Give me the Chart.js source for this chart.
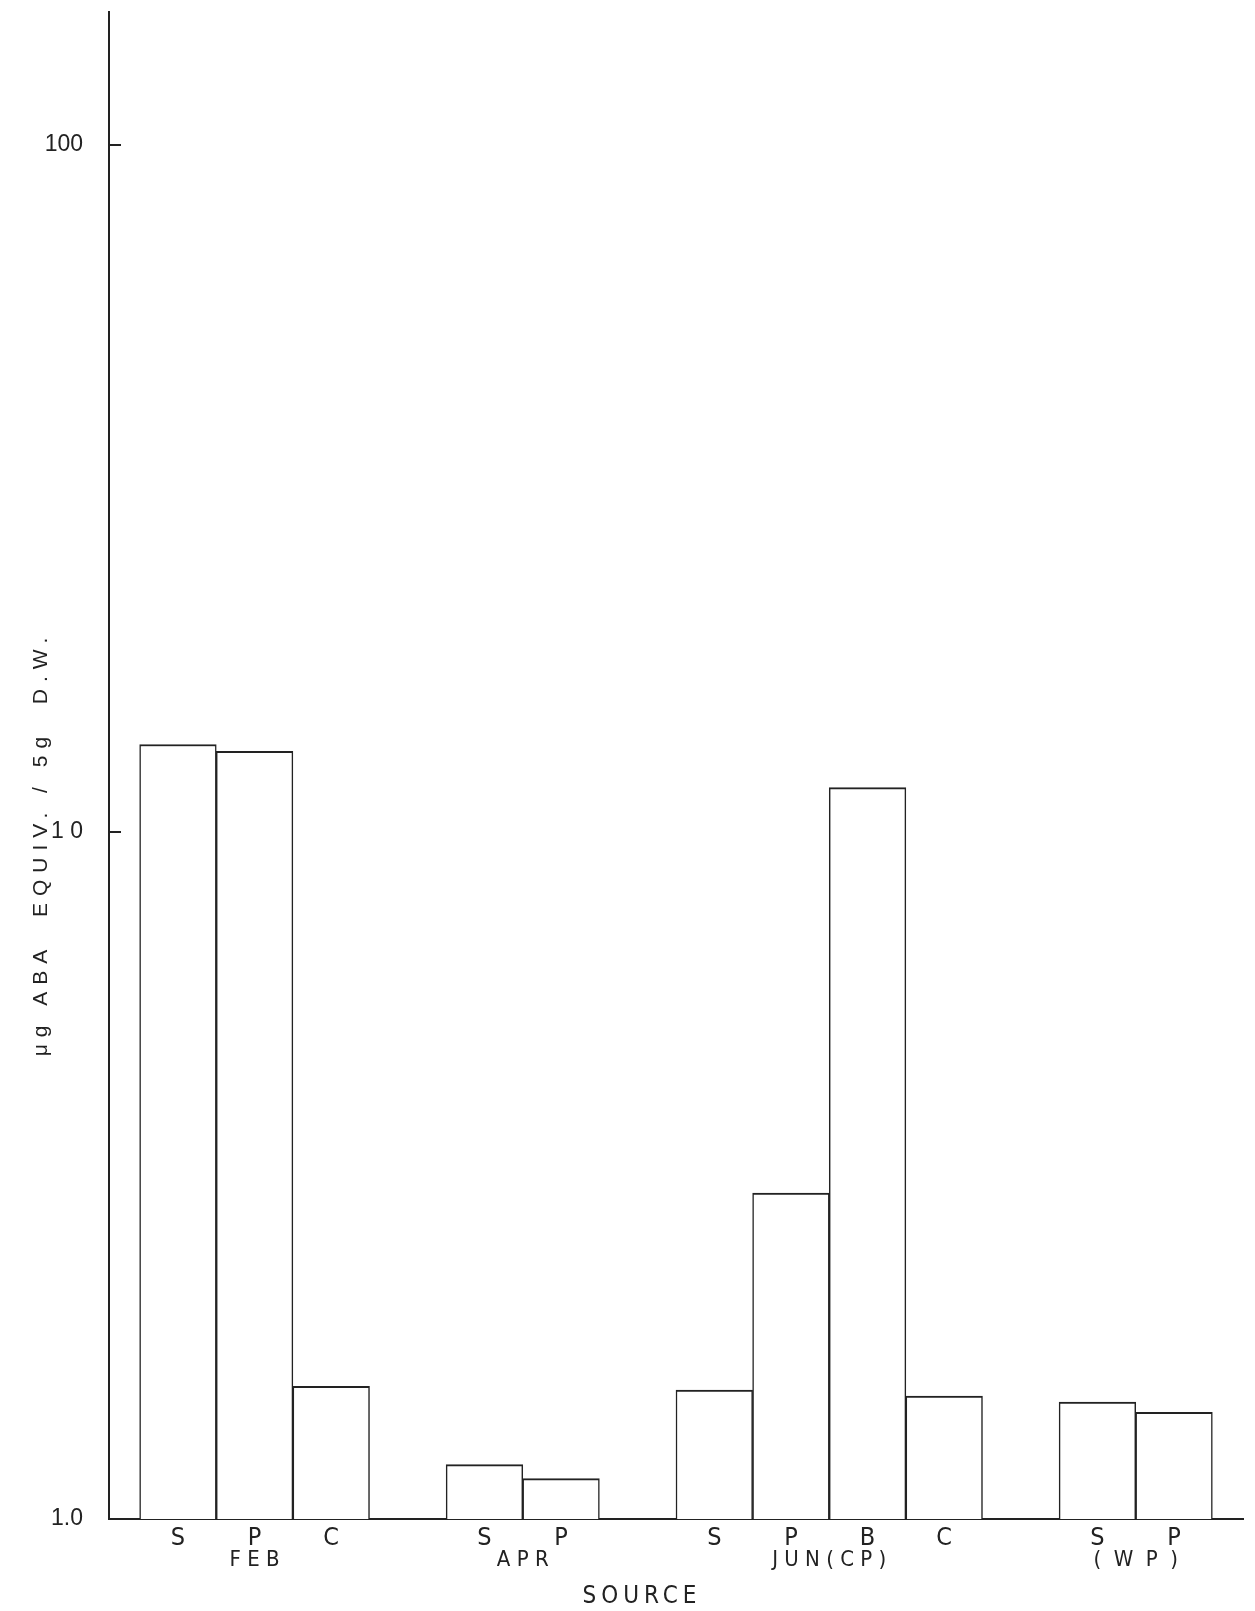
<!DOCTYPE html>
<html>
<head>
<meta charset="utf-8">
<script src="https://cdn.jsdelivr.net/npm/chart.js@4"></script>
<style>
  html, body { margin: 0; padding: 0; background: #fff; }
  #wrap { width: 1255px; height: 1611px; }
</style>
</head>
<body>
<div id="wrap"><canvas id="abaChart"></canvas></div>
<script>
// one slot per bar, empty slots are the gaps between sources
const barLabels = ["S", "P", "C", "", "S", "P", "", "S", "P", "B", "C", "", "S", "P"];
const barGroup = [0, 0, 0, null, 1, 1, null, 2, 2, 2, 2, null, 3, 3];
const groupLabels = ["F E B", "A P R", "J U N ( C P )", "(  W  P  )"];
const abaValues = [13.4, 13.1, 1.56, null, 1.2, 1.145, null, 1.54, 2.98, 11.6, 1.51, null, 1.48, 1.43];
const yTicks = [1, 10, 100];
const yTickLabels = ["1.0", "1 0", "100"];
const yTitleText = "μg ABA  EQUIV. / 5g  D.W.";
const xTitleText = "SOURCE";

const ink = "#222";
const narrow = '"Liberation Sans Narrow", "DejaVu Sans Condensed", sans-serif';
const plain = '"Liberation Sans", Arial, sans-serif';

// centre of each source group, from the slots that belong to it
const groupCenters = groupLabels.map((_, g) => {
  const idx = barGroup.map((b, i) => (b === g ? i : null)).filter((i) => i !== null);
  return idx.reduce((a, b) => a + b, 0) / idx.length;
});

// axis titles, drawn by hand so they can sit off-centre like the plotter output
const axisTitles = {
  id: "axisTitles",
  afterDraw(chart) {
    const { ctx, chartArea } = chart;
    ctx.save();
    ctx.fillStyle = ink;
    ctx.textAlign = "center";
    ctx.textBaseline = "middle";

    ctx.font = "24px " + narrow;
    ctx.letterSpacing = "5px";
    ctx.fillText(xTitleText, chartArea.left + 0.47 * (chartArea.right - chartArea.left), chart.height - 14);

    ctx.translate(chartArea.left - 68, (chartArea.top + chartArea.bottom) / 2 + 78);
    ctx.rotate(-Math.PI / 2);
    ctx.font = "21px " + plain;
    ctx.letterSpacing = "7px";
    ctx.fillText(yTitleText, 0, 0);
    ctx.restore();
  },
};

new Chart(document.getElementById("abaChart"), {
  type: "bar",
  data: {
    datasets: [
      {
        data: abaValues.map((v, i) => ({ x: i, y: v })),
        backgroundColor: "#fff",
        borderColor: ink,
        borderWidth: { top: 2, left: 1.5, right: 1.5, bottom: 0 },
        categoryPercentage: 1,
        barPercentage: 1,
      },
    ],
  },
  options: {
    responsive: true,
    maintainAspectRatio: false,
    animation: false,
    layout: { autoPadding: false, padding: { top: 12, right: 12, left: 0, bottom: 39 } },
    plugins: {
      legend: { display: false },
      tooltip: { enabled: false },
    },
    scales: {
      x: {
        type: "linear",
        position: "bottom",
        offset: false,
        min: -0.9,
        max: 13.9,
        grid: { display: false, drawTicks: false, offset: false },
        border: { display: true, color: ink, width: 2 },
        afterBuildTicks: (scale) => {
          scale.ticks = barLabels.map((_, i) => ({ value: i }));
        },
        afterFit: (scale) => {
          scale.height = 28;
        },
        ticks: {
          autoSkip: false,
          maxRotation: 0,
          padding: 4,
          color: ink,
          font: { family: narrow, size: 25 },
          callback: (v) => barLabels[v],
        },
      },
      x2: {
        type: "linear",
        position: "bottom",
        offset: false,
        min: -0.9,
        max: 13.9,
        grid: { display: false, drawTicks: false, offset: false },
        border: { display: false },
        afterBuildTicks: (scale) => {
          scale.ticks = groupCenters.map((c) => ({ value: c }));
        },
        afterFit: (scale) => {
          scale.height = 25;
        },
        ticks: {
          autoSkip: false,
          maxRotation: 0,
          padding: 0,
          color: ink,
          font: { family: narrow, size: 22 },
          callback: (v, i) => groupLabels[i],
        },
      },
      y: {
        type: "logarithmic",
        min: 1,
        max: 156,
        grid: { display: true, drawOnChartArea: false, drawTicks: true, tickLength: -12, color: ink, lineWidth: 2 },
        border: { display: true, color: ink, width: 2 },
        afterBuildTicks: (scale) => {
          scale.ticks = yTicks.map((v) => ({ value: v }));
        },
        afterFit: (scale) => {
          scale.width = 109;
          // the wide label padding must not push the plot top down
          scale.paddingTop = 0;
          scale.paddingBottom = 0;
        },
        ticks: {
          padding: 38,
          color: ink,
          font: { family: plain, size: 23 },
          callback: (v) => yTickLabels[yTicks.indexOf(v)],
        },
      },
    },
  },
  plugins: [axisTitles],
});
</script>
</body>
</html>
